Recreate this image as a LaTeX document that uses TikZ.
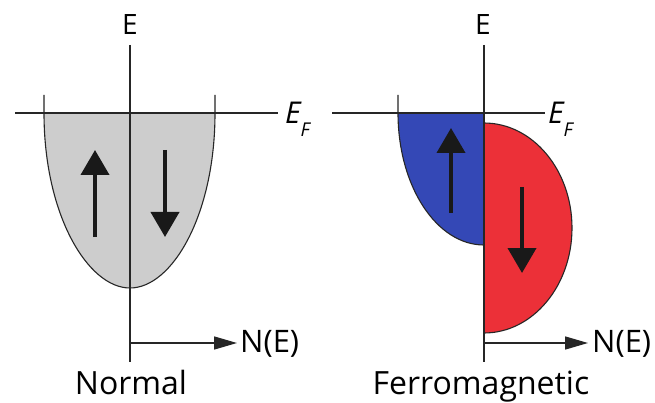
\documentclass[tikz,border=0pt]{standalone}
\usepackage{fontspec}
\setmainfont{Open Sans}
\usetikzlibrary{arrows.meta}
\definecolor{bandgray}{RGB}{205,205,205}
\definecolor{upblue}{RGB}{52,72,182}
\definecolor{downred}{RGB}{236,48,56}
\begin{document}
\begin{tikzpicture}[x=1pt,y=-1pt,
  axis/.style={line width=1.5pt, black!85},
  outline/.style={line width=1.1pt, black!85},
  spinarrow/.style={line width=4pt, black!90, -{Triangle[width=28pt,length=25pt]}},
  naxis/.style={line width=1.5pt, black!85, -{Triangle[width=13pt,length=23pt]}},
  biglab/.style={font=\fontsize{32}{32}\selectfont, inner sep=0pt},
  elab/.style={font=\fontsize{28}{28}\selectfont, inner sep=0pt},
  fermi/.style={inner sep=0pt, anchor=north west}]
\useasboundingbox (0,0) rectangle (655,403);
\fill[white] (0,0) rectangle (655,403);

% ---------- Normal ----------
\coordinate (Ltop) at (130,45);
\coordinate (Lbot) at (130,362);
\coordinate (Lfl) at (15,113);
\coordinate (Lfr) at (278,113);
\coordinate (Lna) at (130,343);
\coordinate (Lnb) at (237,343);

\fill[bandgray] (44,113) .. controls (44,215) and (88,288) .. (130,288)
   .. controls (172,288) and (215,215) .. (215,113) -- cycle;
\draw[outline] (44,95) -- (44,113) .. controls (44,215) and (88,288) .. (130,288)
   .. controls (172,288) and (215,215) .. (215,113) -- (215,95);
\draw[axis] (Lfl) -- (Lfr);
\draw[axis] (Ltop) -- (Lbot);
\draw[naxis] (Lna) -- (Lnb);

\coordinate (Lua) at (95,237); \coordinate (Lub) at (95,150);
\coordinate (Lda) at (165,150); \coordinate (Ldb) at (165,237);
\draw[spinarrow] (Lua) -- (Lub);
\draw[spinarrow] (Lda) -- (Ldb);

\node[elab, anchor=base] (LE) at (130,35) {E};
\node[fermi] (LEF) at (285,102) {{\fontsize{30}{30}\selectfont\itshape E}\raisebox{-13pt}{\fontsize{19}{19}\selectfont\itshape F}};
\node[biglab, anchor=base west, font=\fontsize{31}{31}\selectfont] (LN) at (240,352) {N(E)};
\node[biglab, anchor=base] (Lname) at (131,394) {Normal};

% ---------- Ferromagnetic ----------
\coordinate (Rtop) at (484,45);
\coordinate (Rbot) at (484,362);
\coordinate (Rfl) at (332,113);
\coordinate (Rfr) at (545,113);
\coordinate (Rna) at (484,343);
\coordinate (Rnb) at (588,343);

\fill[upblue] (484,113) -- (398,113) .. controls (398,186) and (436.5,245) .. (484,245) -- cycle;
\draw[outline] (398,95) -- (398,113) .. controls (398,186) and (436.5,245) .. (484,245);
\fill[downred] (484,123) .. controls (532.6,123) and (572,170) .. (572,228)
   .. controls (572,286) and (532.6,333) .. (484,333) -- cycle;
\draw[outline] (484,123) .. controls (532.6,123) and (572,170) .. (572,228)
   .. controls (572,286) and (532.6,333) .. (484,333);
\draw[axis] (Rfl) -- (Rfr);
\draw[axis] (Rtop) -- (Rbot);
\draw[naxis] (Rna) -- (Rnb);

\coordinate (Rua) at (451,213); \coordinate (Rub) at (451,128);
\coordinate (Rda) at (522,187); \coordinate (Rdb) at (522,273);
\draw[spinarrow] (Rua) -- (Rub);
\draw[spinarrow] (Rda) -- (Rdb);

\node[elab, anchor=base] (RE) at (483,35) {E};
\node[fermi] (REF) at (548,102) {{\fontsize{30}{30}\selectfont\itshape E}\raisebox{-13pt}{\fontsize{19}{19}\selectfont\itshape F}};
\node[biglab, anchor=base west, font=\fontsize{31}{31}\selectfont] (RN) at (592,352) {N(E)};
\node[biglab, anchor=base] (Rname) at (481,394) {Ferromagnetic};
\end{tikzpicture}
\end{document}
